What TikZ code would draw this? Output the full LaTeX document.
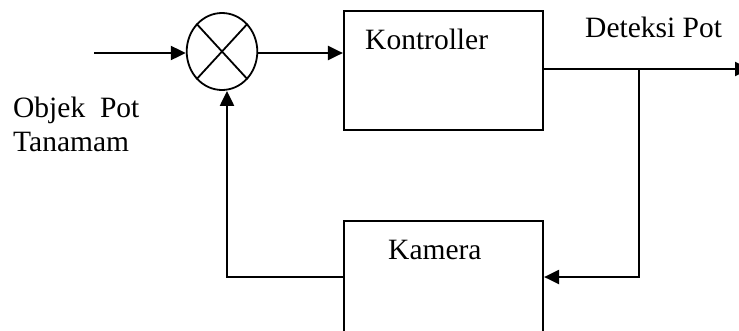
\documentclass[tikz,border=0pt]{standalone}
\usepackage{fontspec}
\setmainfont{Liberation Serif}
\usetikzlibrary{arrows.meta,shapes.geometric}
\begin{document}
\begin{tikzpicture}[x=1pt,y=-1pt,
  box/.style={draw,line width=2.2pt,rectangle,minimum width=199pt,inner sep=0pt},
  arr/.style={line width=2.2pt,-{Triangle[length=15pt,width=14pt]}},
  lbl/.style={anchor=base west,inner sep=0pt,font=\fontsize{29.5}{34}\selectfont}]
\useasboundingbox (0,0) rectangle (739,330);
\node[draw,line width=1.8pt,ellipse,minimum width=70.6pt,minimum height=77pt,inner sep=0pt] (sum) at (222,51.5) {};
\draw[line width=1.8pt] (sum.north west) -- (sum.south east) (sum.north east) -- (sum.south west);
\node[box,minimum height=119pt] (ctrl) at (443.5,70.5) {};
\node[box,minimum height=116pt] (cam) at (443.5,279) {};
\node[lbl] (tctrl) at (365,49) {Kontroller};
\node[lbl] (tcam) at (388,259) {Kamera};
\node[lbl] (tdet) at (585,37) {Deteksi Pot};
\node[lbl] (tobj) at (13,117) {Objek\ \ Pot};
\node[lbl] (ttan) at (13,151) {Tanamam};
\coordinate (in) at (94,53);
\coordinate (br) at (639,69);
\coordinate (out) at (750,69);
\coordinate (fbR) at (639,277);
\coordinate (fbL) at (227,277);
\draw[arr] (in) -- (sum.west |- in);
\draw[arr] (sum.east |- 0,53) -- (ctrl.west |- 0,53);
\draw[arr] (ctrl.east |- br) -- (out);
\draw[arr] (br) -- (fbR) -- (fbR -| cam.east);
\draw[arr] (cam.west |- fbL) -- (fbL) -- (fbL |- sum.south);
\end{tikzpicture}
\end{document}
